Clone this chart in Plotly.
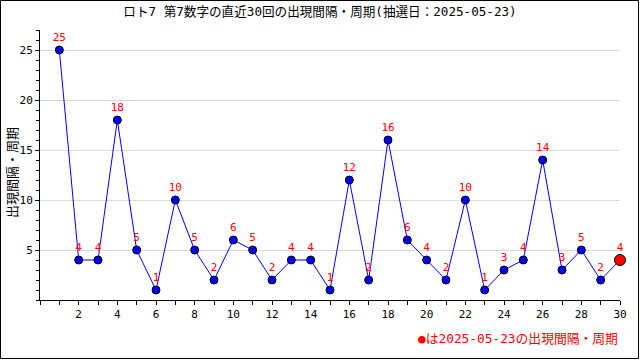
import plotly.graph_objects as go

draws = list(range(1, 31))
intervals = [25, 4, 4, 18, 5, 1, 10, 5, 2, 6, 5, 2, 4, 4, 1, 12, 2, 16, 6, 4, 2, 10, 1, 3, 4, 14, 3, 5, 2, 4]
x_ticks = list(range(2, 31, 2))
y_ticks = [5, 10, 15, 20, 25]
title_text = "ロト7 第7数字の直近30回の出現間隔・周期(抽選日：2025-05-23)"
ytitle = "出現間隔・周期"
note = "●は2025-05-23の出現間隔・周期"

FONT = "DejaVu Sans Mono, Noto Sans CJK JP"

fig = go.Figure()
fig.add_trace(go.Scatter(
    x=draws, y=intervals, mode="lines+markers+text",
    text=[str(v) for v in intervals], textposition="top center",
    textfont=dict(color="red", size=11, family=FONT),
    line=dict(color="blue", width=1),
    marker=dict(color="blue", size=8, line=dict(color="black", width=1)),
    cliponaxis=False, showlegend=False, hoverinfo="skip"))
fig.add_trace(go.Scatter(
    x=[draws[-1]], y=[intervals[-1]], mode="markers",
    marker=dict(color="red", size=11, line=dict(color="black", width=1)),
    cliponaxis=False, showlegend=False, hoverinfo="skip"))

L, R, T, B = 40, 20, 30, 60
W, H = 640, 360
pw, ph = W - L - R, H - T - B

fig.update_layout(
    width=W, height=H, margin=dict(l=L, r=R, t=T, b=B),
    paper_bgcolor="white", plot_bgcolor="white",
    font=dict(family=FONT, size=11, color="black"),
    title=dict(text=title_text, x=0.5, xanchor="center", y=1 - 12/H, yanchor="middle",
               font=dict(size=12.6, family=FONT)),
    xaxis=dict(range=[0, 30], tickvals=x_ticks, ticks="outside", ticklen=4, tickcolor="black",
               showline=True, linecolor="black", linewidth=1, showgrid=False, zeroline=False,
               tickfont=dict(size=11), automargin=False,
               minor=dict(dtick=1, tick0=0, ticks="outside", ticklen=4, tickcolor="black", showgrid=False)),
    yaxis=dict(range=[0, 27], tickvals=y_ticks, ticks="outside", ticklen=4, tickcolor="black",
               showline=True, linecolor="black", linewidth=1, showgrid=True, gridcolor="#d9d9d9",
               zeroline=False, tickfont=dict(size=11), automargin=False,
               minor=dict(dtick=1, tick0=0, ticks="outside", ticklen=3, tickcolor="black", showgrid=False)),
)
fig.add_annotation(text=ytitle, xref="paper", yref="paper", x=-(L - 12) / pw, y=0.5 - 8/ph,
                   xanchor="center", yanchor="middle", textangle=-90, showarrow=False,
                   font=dict(size=13, family=FONT))
fig.add_annotation(text=note, xref="paper", yref="paper", x=1.0, y=-(338 - (T + ph)) / ph,
                   xanchor="right", yanchor="middle", showarrow=False,
                   font=dict(color="red", size=12.8, family=FONT))
fig.add_shape(type="rect", xref="paper", yref="paper",
              x0=-(L - 0.5) / pw, x1=(W - L - 1.5) / pw, y0=-(B - 1.5) / ph, y1=(T + ph - 0.5) / ph,
              line=dict(color="black", width=1), fillcolor="rgba(0,0,0,0)", layer="above")
fig.write_html("out.html", config={"displayModeBar": False, "staticPlot": True},
               post_script="document.body.style.margin='0';document.body.style.overflow='hidden';")
